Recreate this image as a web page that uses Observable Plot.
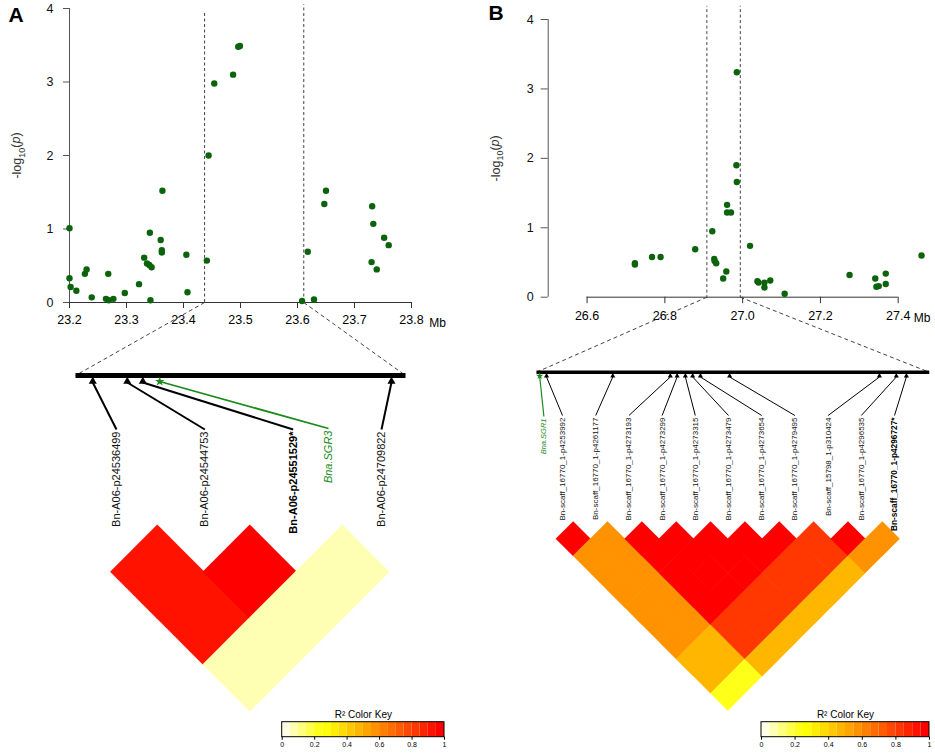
<!DOCTYPE html>
<html><head><meta charset="utf-8">
<script src="https://cdn.jsdelivr.net/npm/d3@7"></script>
<script src="https://cdn.jsdelivr.net/npm/@observablehq/plot@0.6"></script>
<style>
body{margin:0;background:#fff;}
#root{position:relative;width:935px;height:754px;overflow:hidden;background:#fff;}
#root svg{position:absolute;left:0;top:0;overflow:visible;}
</style></head><body><div id="root"></div>
<script>
// ---------------- DATA ----------------
// Panel A association scan (position in Mb, -log10 p)
const posA = [23.200,23.200,23.202,23.212,23.227,23.230,23.239,23.264,23.268,23.269,23.277,23.297,23.322,23.331,23.336,23.340,23.341,23.342,23.344,23.360,23.362,23.362,23.363,23.405,23.407,23.441,23.444,23.454,23.487,23.496,23.499,23.608,23.618,23.629,23.647,23.650,23.731,23.733,23.730,23.739,23.752,23.760];
const logpA = [1.01,0.33,0.21,0.16,0.39,0.45,0.07,0.05,0.39,0.03,0.05,0.13,0.25,0.61,0.53,0.51,0.95,0.03,0.48,0.85,0.71,0.68,1.52,0.65,0.14,0.57,2.00,2.98,3.10,3.48,3.49,0.02,0.69,0.04,1.34,1.52,1.31,1.07,0.55,0.45,0.88,0.78];
// Panel B association scan
const posB = [26.723,26.723,26.767,26.789,26.878,26.922,26.927,26.928,26.932,26.950,26.958,26.960,26.960,26.970,26.984,26.985,26.985,27.019,27.038,27.041,27.056,27.056,27.071,27.108,27.275,27.341,27.344,27.350,27.368,27.368,27.460];
const logpB = [0.49,0.47,0.58,0.58,0.69,0.95,0.55,0.52,0.49,0.27,0.37,1.33,1.22,1.22,1.90,1.66,3.24,0.74,0.23,0.21,0.21,0.14,0.24,0.05,0.32,0.27,0.15,0.16,0.34,0.19,0.60];
// zoomed regions (Mb)
const boundsA = [23.437, 23.611];
const boundsB = [26.908, 26.994];
// tick labels
const xTicksA = [23.2, 23.3, 23.4, 23.5, 23.6, 23.7, 23.8];
const xTicksB = [26.6, 26.8, 27.0, 27.2, 27.4];
const yTicks = [0, 1, 2, 3, 4];
const keyTicks = [0, 0.2, 0.4, 0.6, 0.8, 1];
// SNPs in the LD blocks
const snpNamesA = ["Bn-A06-p24536499","Bn-A06-p24544753","Bn-A06-p24551529*","Bn-A06-p24709822"];
const snpPosA = [23.4461, 23.4643, 23.4725, 23.6036];
const geneA = "Bna.SGR3", genePosA = 23.4814;
const snpNamesB = ["Bn-scaff_16770_1-p4253992","Bn-scaff_16770_1-p4261177","Bn-scaff_16770_1-p4273193","Bn-scaff_16770_1-p4273299","Bn-scaff_16770_1-p4273315","Bn-scaff_16770_1-p4273479","Bn-scaff_16770_1-p4273654","Bn-scaff_16770_1-p4279495","Bn-scaff_15798_1-p310424","Bn-scaff_16770_1-p4296535","Bn-scaff_16770_1-p4296727*"];
const snpPosB = [26.9102,26.9247,26.9373,26.9388,26.9406,26.9422,26.9439,26.9503,26.9831,26.9868,26.9890];
const geneB = "Bna.SGR1", genePosB = 26.9087;
// pairwise r2 (row i holds pairs i with i+1 .. n-1)
const ldA = [[0.92,0.92,0.07],[0.98,0.07],[0.07]];
const ldB = [
  [1.0,0.57,0.57,0.57,0.57,0.57,0.57,0.47,0.47,0.22],
  [0.57,0.57,0.57,0.57,0.57,0.57,0.47,0.47,0.22],
  [1,1,1,1,1,0.82,0.82,0.47],
  [1,1,1,1,0.82,0.82,0.47],
  [1,1,1,0.82,0.82,0.47],
  [1,1,0.82,0.82,0.47],
  [1,0.82,0.82,0.47],
  [0.82,0.82,0.47],
  [0.98,0.57],
  [0.57]
];

// ---------------- STYLE ----------------
const W = 935, H = 754;
const FONT = "'Liberation Sans', Arial, sans-serif";
const baseStyle = {fontFamily: FONT, fontSize: "12px", background: "transparent", overflow: "visible"};
const dotColor = "#0b630b";
const green = "#1a8a1a";
// R heat.colors(20) reversed as key palette
const palette = d3.range(20).map(b => b < 5
  ? `rgb(255,255,${Math.round(255 * (0.9 - 0.2 * b))})`
  : `rgb(255,${Math.round(255 * (19 - b) / 14)},0)`);
const colorOpts = {type: "threshold", domain: d3.range(1, 20).map(k => k / 20), range: palette};
const ap = (s, v) => (s.apply ? s.apply(v) : d3.scaleLinear(s.domain, s.range)(v));
const root = document.getElementById("root");

// ---------------- SCATTER A ----------------
const chartA = Plot.plot({
  width: W, height: H,
  marginLeft: 69, marginRight: W - 411, marginTop: 8, marginBottom: H - 302,
  x: {domain: [23.2, 23.8]},
  y: {domain: [0, 4]},
  style: baseStyle,
  marks: [
    Plot.ruleY([0], {x1: () => 23.2, x2: () => 23.8, stroke: "#333"}),
    Plot.ruleX([23.2], {y1: () => 0, y2: () => 4, stroke: "#555"}),
    Plot.axisX({ticks: xTicksA, tickFormat: ".1f", tickSize: 6, tickPadding: 7, label: null, stroke: "#333", fontSize: 12.5}),
    Plot.axisY({ticks: yTicks, tickFormat: () => "", tickSize: 6, label: "-log10(p)", labelAnchor: "center", labelOffset: 57, labelArrow: "none", stroke: "#555", fontSize: 12.5}),
    Plot.text(yTicks, {x: () => 23.2, y: d => d, text: d => String(d), dx: -16, textAnchor: "end", fontSize: 12.5, fill: "#111"}),
    Plot.ruleX([boundsA[0]], {y1: () => 0, y2: () => 3.94, stroke: "#444", strokeDasharray: "3,2.5"}),
    Plot.ruleX([boundsA[1]], {y1: () => 0, y2: () => 4.05, stroke: "#444", strokeDasharray: "3,2.5"}),
    Plot.dot(posA.map((x, i) => ({x, y: logpA[i]})), {x: "x", y: "y", r: 3.2, fill: dotColor}),
    Plot.text(["Mb"], {x: () => 23.8, y: () => 0, dx: 26, dy: 21, text: d => d, fontSize: 12})
  ]
});

// ---------------- SCATTER B ----------------
const chartB = Plot.plot({
  width: W, height: H,
  marginLeft: 547.7, marginRight: W - 897.7, marginTop: 19, marginBottom: H - 296.7,
  x: {domain: [26.5, 27.4]},
  y: {domain: [0, 4]},
  style: baseStyle,
  marks: [
    Plot.ruleY([0], {x1: () => 26.6, x2: () => 27.4, stroke: "#333"}),
    Plot.ruleX([26.5], {y1: () => 0, y2: () => 4, stroke: "#555"}),
    Plot.axisX({ticks: xTicksB, tickFormat: ".1f", tickSize: 6.5, tickPadding: 7, label: null, stroke: "#333", fontSize: 12.5}),
    Plot.axisY({ticks: yTicks, tickFormat: () => "", tickSize: 7, label: "-log10(p)", labelAnchor: "center", labelOffset: 57, labelArrow: "none", stroke: "#555", fontSize: 12.5}),
    Plot.text(yTicks, {x: () => 26.5, y: d => d, text: d => String(d), dx: -14.5, textAnchor: "end", fontSize: 12.5, fill: "#111"}),
    Plot.ruleX(boundsB, {y1: () => -0.02, y2: () => 4.19, stroke: "#444", strokeDasharray: "3,2.5"}),
    Plot.dot(posB.map((x, i) => ({x, y: logpB[i]})), {x: "x", y: "y", r: 3.2, fill: dotColor}),
    Plot.text(["Mb"], {x: () => 27.4, y: () => 0, dx: 24, dy: 21, text: d => d, fontSize: 12})
  ]
});

function fixYLabel(svg) {
  d3.select(svg).selectAll("text").filter(function () { return this.textContent.includes("log10"); })
    .each(function () {
      const t = d3.select(this);
      t.text(null).attr("fill", "#333").attr("font-size", 12.5);
      t.append("tspan").text("-log");
      t.append("tspan").attr("dy", "0.35em").attr("font-size", "0.72em").text("10");
      t.append("tspan").attr("dy", "-0.35em").text("(");
      t.append("tspan").attr("font-style", "italic").text("p");
      t.append("tspan").text(")");
    });
}
fixYLabel(chartA); fixYLabel(chartB);

// ---------------- PHYSICAL MAP + SNP LABELS (overlay) ----------------
const sxA = chartA.scale("x"), syA = chartA.scale("y");
const sxB = chartB.scale("x"), syB = chartB.scale("y");
const mxA = Plot.scale({x: {domain: boundsA, range: [75, 405]}});
const mxB = Plot.scale({x: {domain: boundsB, range: [536, 928.7]}});
const slotA = Plot.scale({x: {domain: [0, snpNamesA.length - 1], range: [116, 381]}});
const slotB = Plot.scale({x: {domain: [0, snpNamesB.length - 1], range: [562, 894]}});

const overlay = Plot.plot({
  width: W, height: H, margin: 0,
  x: {type: "identity", axis: null}, y: {type: "identity", axis: null},
  style: {...baseStyle},
  marks: [
    // panel letters
    Plot.text(["A", "B"], {x: (d, i) => [15.5, 495.5][i], y: (d, i) => [14.5, 13][i], text: d => d, fontSize: 21, fontWeight: "bold"}),
    // zoom connectors
    Plot.link(boundsA, {x1: d => ap(sxA, d), y1: () => ap(syA, 0), x2: d => ap(mxA, d), y2: () => 375, stroke: "#444", strokeDasharray: "4,3"}),
    Plot.link(boundsB, {x1: d => ap(sxB, d), y1: () => ap(syB, 0), x2: d => ap(mxB, d), y2: () => 371.7, stroke: "#444", strokeDasharray: "4,3"}),
    // chromosome bars
    Plot.link([boundsA], {x1: d => ap(mxA, d[0]), x2: d => ap(mxA, d[1]), y1: () => 375, y2: () => 375, stroke: "#000", strokeWidth: 5}),
    Plot.link([boundsB], {x1: d => ap(mxB, d[0]), x2: d => ap(mxB, d[1]), y1: () => 371.7, y2: () => 371.7, stroke: "#000", strokeWidth: 3.5}),
    // A: SNP connectors
    Plot.link(snpPosA, {x1: d => ap(mxA, d), y1: () => 382, x2: (d, i) => ap(slotA, i), y2: () => 429, stroke: "#000", strokeWidth: 2}),
    Plot.dot(snpPosA, {x: d => ap(mxA, d), y: () => 381, symbol: "triangle", r: 3, fill: "#000"}),
    Plot.link([genePosA], {x1: d => ap(mxA, d), y1: () => 381, x2: () => ap(slotA, 2.4), y2: () => 428, stroke: green, strokeWidth: 1.8}),
    Plot.dot([genePosA], {x: d => ap(mxA, d), y: () => 381, symbol: "star", r: 3, fill: green}),
    Plot.text(snpNamesA, {filter: d => !d.endsWith("*"), x: (d, i) => ap(slotA, i), y: () => 431, text: d => d, rotate: -90, textAnchor: "end", fontSize: 11, fill: "#111"}),
    Plot.text(snpNamesA, {filter: d => d.endsWith("*"), x: (d, i) => ap(slotA, i), y: () => 431, text: d => d, rotate: -90, textAnchor: "end", fontSize: 11, fontWeight: "bold", fill: "#000"}),
    Plot.text([geneA], {x: () => ap(slotA, 2.4), y: () => 430, text: d => d, rotate: -90, textAnchor: "end", fontSize: 11, fontStyle: "italic", fill: green}),
    // B: SNP connectors
    Plot.link(snpPosB, {x1: d => ap(mxB, d), y1: () => 376.5, x2: (d, i) => ap(slotB, i), y2: () => 415, stroke: "#000", strokeWidth: 1}),
    Plot.dot(snpPosB, {x: d => ap(mxB, d), y: () => 375.5, symbol: "triangle", r: 1.9, fill: "#000"}),
    Plot.link([genePosB], {x1: d => ap(mxB, d), y1: () => 376, x2: () => ap(slotB, -0.56), y2: () => 416, stroke: green, strokeWidth: 1.2}),
    Plot.dot([genePosB], {x: d => ap(mxB, d), y: () => 375.5, symbol: "star", r: 2.3, fill: green}),
    Plot.text(snpNamesB, {filter: d => !d.endsWith("*"), x: (d, i) => ap(slotB, i), y: () => 417, text: d => d, rotate: -90, textAnchor: "end", fontSize: 8, fill: "#111"}),
    Plot.text(snpNamesB, {filter: d => d.endsWith("*"), x: (d, i) => ap(slotB, i), y: () => 417, text: d => d, rotate: -90, textAnchor: "end", fontSize: 8.3, fontWeight: "bold", fill: "#000"}),
    Plot.text([geneB], {x: () => ap(slotB, -0.56), y: () => 418, text: d => d, rotate: -90, textAnchor: "end", fontSize: 7.5, fontStyle: "italic", fill: green})
  ]
});

// ---------------- LD HEATMAPS ----------------
function ldRows(ld) {
  const rows = [], e = 0.51; // slight overlap hides seams
  ld.forEach((row, i) => row.forEach((r2, k) => {
    const j = i + 1 + k, cx = (i + j) / 2, cy = (j - i) / 2, id = i + "-" + j;
    rows.push({id, r2, x: cx - e, y1: cy, y2: cy});
    rows.push({id, r2, x: cx, y1: cy - e, y2: cy + e});
    rows.push({id, r2, x: cx + e, y1: cy, y2: cy});
  }));
  return rows;
}
function heatmap(ld, n, xRange, yRange) {
  return Plot.plot({
    width: W, height: H, margin: 0,
    x: {domain: [0, n - 1], range: xRange, axis: null},
    y: {domain: [0, n / 2], range: yRange, axis: null},
    color: colorOpts,
    style: baseStyle,
    marks: [Plot.areaY(ldRows(ld), {x: "x", y1: "y1", y2: "y2", z: "id", fill: "r2"})]
  });
}
const heatA = heatmap(ldA, snpNamesA.length, [111, 388.5], [525.5, 710.5]);
const heatB = heatmap(ldB, snpNamesB.length, [556, 899.5], [521.5, 710.4]);

// ---------------- COLOR KEYS ----------------
const bins = d3.range(20).map(b => b / 20);
function colorKey(xRange) {
  return Plot.plot({
    width: W, height: H, marginLeft: 0, marginRight: 0, marginTop: 0, marginBottom: H - 736.7,
    x: {domain: [0, 1], range: xRange},
    y: {domain: [0, 1], range: [736.7, 721.7], axis: null},
    color: colorOpts,
    style: {...baseStyle, fontSize: "7px"},
    marks: [
      Plot.rect(bins, {x1: d => d, x2: d => d + 0.05, y1: () => 0, y2: () => 1, fill: d => d + 0.025}),
      Plot.rect([0], {x1: () => 0, x2: () => 1, y1: () => 0, y2: () => 1, fill: "none", stroke: "#000", strokeWidth: 1}),
      Plot.axisX({ticks: keyTicks, tickFormat: d => String(d), tickSize: 3, tickPadding: 2, label: null, fontSize: 7}),
      Plot.text(["R\u00B2 Color Key"], {x: () => 0.5, y: () => 1, dy: -7, text: d => d, fontSize: 10})
    ]
  });
}
const keyA = colorKey([281.7, 444]);
const keyB = colorKey([761, 929]);

[heatA, heatB, keyA, keyB, chartA, chartB, overlay].forEach(s => root.appendChild(s));
</script>
</body></html>
